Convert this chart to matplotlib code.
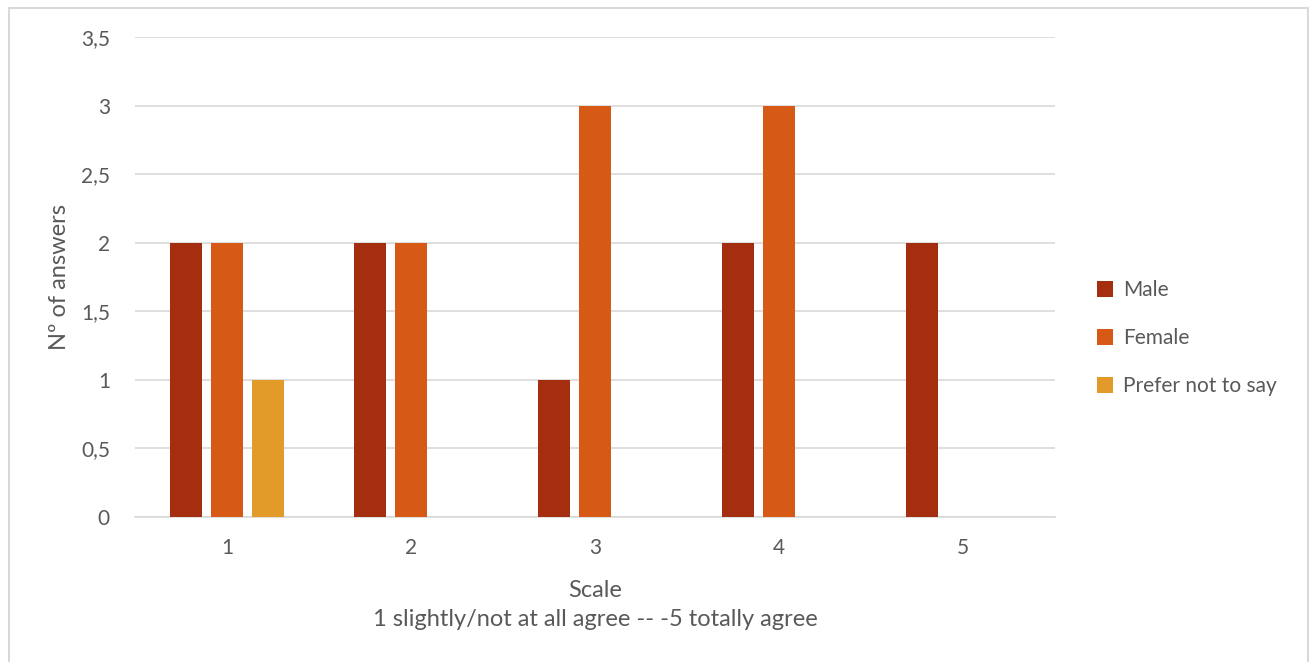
import numpy as np
import matplotlib
matplotlib.use("Agg")
import matplotlib.pyplot as plt
from matplotlib.patches import Rectangle
from matplotlib.ticker import FuncFormatter, MultipleLocator

categories = ["1", "2", "3", "4", "5"]
male = [2, 2, 1, 2, 2]
female = [2, 2, 3, 3, 0]
prefer_not = [1, 0, 0, 0, 0]
series_names = ["Male", "Female", "Prefer not to say"]
colors = ["#A52E11", "#D65916", "#E29A29"]

plt.rcParams["font.family"] = ["Lato", "DejaVu Sans"]
text_color = "#595959"

fig = plt.figure(figsize=(13.09, 6.62), dpi=100)
ax = fig.add_axes([135 / 1309, 1 - 517 / 662, 920 / 1309, 480 / 662])

# outer chart frame
fig.patches.append(Rectangle((8.5 / 1309, -0.05), 1299.5 / 1309, 1.05 - 7.5 / 662,
                             transform=fig.transFigure, fill=False,
                             edgecolor="#D9D9D9", linewidth=1.5))

x = np.arange(1, len(categories) + 1)
width = 0.174
pitch = 0.2215
for i, (vals, name, c) in enumerate(zip([male, female, prefer_not], series_names, colors)):
    ax.bar(x + (i - 1) * pitch, vals, width=width, color=c, label=name, zorder=3)

ax.set_xlim(0.5, 5.5)
ax.set_ylim(0, 3.5)
ax.yaxis.set_major_locator(MultipleLocator(0.5))
ax.yaxis.set_major_formatter(FuncFormatter(lambda v, p: f"{v:g}".replace(".", ",")))
ax.set_xticks(x)
ax.set_xticklabels(categories)
ax.grid(axis="y", color="#D9D9D9", linewidth=1.2, zorder=0)
for side in ["top", "right", "left"]:
    ax.spines[side].set_visible(False)
ax.spines["bottom"].set_color("#D9D9D9")
ax.spines["bottom"].set_linewidth(1.2)
ax.tick_params(length=0, labelsize=15, labelcolor=text_color)
ax.tick_params(axis="y", pad=18)
ax.tick_params(axis="x", pad=15)

ax.set_ylabel("Nº of answers", fontsize=17, color=text_color, labelpad=8)
ax.set_xlabel("Scale\n1 slightly/not at all agree -- -5 totally agree",
              fontsize=17, color=text_color, labelpad=16, linespacing=1.45)

leg = ax.legend(loc="center left", bbox_to_anchor=(1.025, 0.373), frameon=False,
                fontsize=15, handlelength=0.8, handleheight=0.8, handletextpad=0.45,
                labelspacing=1.35, labelcolor=text_color)

fig.savefig("out.png", dpi=100, facecolor="white")
